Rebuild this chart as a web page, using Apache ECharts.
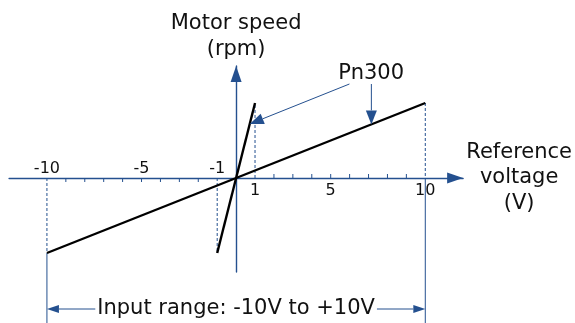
<!DOCTYPE html>
<html>
<head>
<meta charset="utf-8">
<script src="https://cdn.jsdelivr.net/npm/echarts@6/dist/echarts.min.js"></script>
<style>
  html, body { margin: 0; padding: 0; background: #ffffff; }
  #chart { width: 575px; height: 323px; }
</style>
</head>
<body>
<div id="chart"></div>
<script>
// Speed characteristic: reference voltage (V) -> motor speed (rpm)
const pn300Voltage = [-10, 10];
const pn300Speed = [-3000, 3000];
const steepVoltage = [-1, 1];
const steepSpeed = [-3000, 3000];

// Axis ticks on the voltage axis
const ticksBelow = [-9, -8, -7, -6, -5, -4, -3, -2];
const ticksAbove = [2, 3, 4, 5, 6, 7, 8, 9];
const labelsAbove = [-10, -5, -1];
const labelsBelow = [1, 5, 10];

// Guide lines: [voltage, speed from, speed to]
const dashedGuides = [[-10, 0, -3000], [-1, 0, -3000], [1, 0, 3000], [10, 3000, 0]];
const solidGuides = [[-10, -3000, -5800], [10, 0, -5800]];

// Input range dimension line: [from V, to V, speed level]
const inputRange = [-10, 10, -5240];
const inputRangeText = 'Input range: -10V to +10V';

// Pn300 callout: label position and the points the arrows touch
const calloutLabel = [7.14, 4160];
const calloutFrom = [[5.99, 3760], [7.15, 3760]];
const calloutTo = [[0.72, 2160], [7.15, 2145]];

const BLUE = '#24508f';
const INK = '#111111';
const FONT = 'DejaVu Sans';

function arrow(from, tip, headLen, headWid, color) {
  const dx = tip[0] - from[0], dy = tip[1] - from[1];
  const L = Math.hypot(dx, dy);
  const ux = dx / L, uy = dy / L;
  const bx = tip[0] - ux * headLen, by = tip[1] - uy * headLen;
  const px = -uy * headWid / 2, py = ux * headWid / 2;
  return [
    { type: 'line', shape: { x1: from[0], y1: from[1], x2: bx, y2: by },
      style: { stroke: color, lineWidth: 1 } },
    { type: 'polygon', shape: { points: [tip, [bx + px, by + py], [bx - px, by - py]] },
      style: { fill: color } }
  ];
}

const chart = echarts.init(document.getElementById('chart'), null, { renderer: 'canvas' });

const option = {
  backgroundColor: '#ffffff',
  animation: false,
  grid: { left: 9.1, width: 454.8, top: 66, height: 206, containLabel: false },
  xAxis: {
    type: 'value', min: -12, max: 12,
    axisLine: {
      onZero: true,
      lineStyle: { color: BLUE, width: 1.4 },
      symbol: ['none', 'triangle'], symbolSize: [11, 16], symbolOffset: [0, -8]
    },
    axisTick: { show: false }, axisLabel: { show: false }, splitLine: { show: false },
    name: 'Reference\nvoltage\n(V)', nameLocation: 'end', nameGap: 56,
    nameTextStyle: { color: INK, fontFamily: FONT, fontSize: 21, align: 'center',
      verticalAlign: 'middle', lineHeight: 25.5 }
  },
  yAxis: {
    type: 'value', min: -3760, max: 4480,
    axisLine: {
      onZero: true,
      lineStyle: { color: BLUE, width: 1.4 },
      symbol: ['none', 'triangle'], symbolSize: [11, 16], symbolOffset: [0, -8]
    },
    axisTick: { show: false }, axisLabel: { show: false }, splitLine: { show: false },
    name: 'Motor speed\n(rpm)', nameLocation: 'end', nameGap: 3,
    nameTextStyle: { color: INK, fontFamily: FONT, fontSize: 21, align: 'center',
      verticalAlign: 'bottom', lineHeight: 26 }
  },
  series: [
    {
      // dashed projection lines
      type: 'custom', clip: false, silent: true, z: 1,
      data: dashedGuides,
      renderItem: function (params, api) {
        const a = api.coord([api.value(0), api.value(1)]);
        const b = api.coord([api.value(0), api.value(2)]);
        return { type: 'line', shape: { x1: a[0], y1: a[1], x2: b[0], y2: b[1] },
          style: { stroke: BLUE, lineWidth: 1, lineDash: [3, 2] } };
      }
    },
    {
      // solid extension lines down to the range bar
      type: 'custom', clip: false, silent: true, z: 1,
      data: solidGuides,
      renderItem: function (params, api) {
        const a = api.coord([api.value(0), api.value(1)]);
        const b = api.coord([api.value(0), api.value(2)]);
        return { type: 'line', shape: { x1: a[0], y1: a[1], x2: b[0], y2: b[1] },
          style: { stroke: BLUE, lineWidth: 1 } };
      }
    },
    {
      // minor ticks: below the axis on the negative side, above on the positive
      type: 'custom', clip: false, silent: true, z: 3,
      data: ticksBelow.map(v => [v, -1]).concat(ticksAbove.map(v => [v, 1])),
      renderItem: function (params, api) {
        const p = api.coord([api.value(0), 0]);
        const dir = api.value(1);
        return { type: 'line', shape: { x1: p[0], y1: p[1], x2: p[0], y2: p[1] - dir * 4 },
          style: { stroke: BLUE, lineWidth: 1 } };
      }
    },
    {
      // tick labels
      type: 'custom', clip: false, silent: true, z: 4,
      data: labelsAbove.map(v => [v, 1]).concat(labelsBelow.map(v => [v, -1])),
      renderItem: function (params, api) {
        const v = api.value(0);
        const p = api.coord([v, 0]);
        const above = api.value(1) > 0;
        return { type: 'text', style: { text: String(v), x: p[0], y: above ? p[1] - 9 : p[1] + 13,
          fill: INK, fontFamily: FONT, fontSize: 16, align: 'center', verticalAlign: 'middle' } };
      }
    },
    {
      name: 'Pn300', type: 'line', data: pn300Voltage.map((v, i) => [v, pn300Speed[i]]),
      showSymbol: false, lineStyle: { color: '#000000', width: 2.4 }, z: 5
    },
    {
      name: 'steep', type: 'line', data: steepVoltage.map((v, i) => [v, steepSpeed[i]]),
      showSymbol: false, lineStyle: { color: '#000000', width: 2.4 }, z: 5
    },
    {
      // Pn300 callout arrows and label
      type: 'custom', clip: false, silent: true, z: 6,
      data: [calloutLabel],
      renderItem: function (params, api) {
        const children = [];
        for (let i = 0; i < calloutFrom.length; i++) {
          const f = api.coord(calloutFrom[i]);
          const t = api.coord(calloutTo[i]);
          children.push(...arrow(f, t, 14, 11, BLUE));
        }
        const lp = api.coord([api.value(0), api.value(1)]);
        children.push({ type: 'text', style: { text: 'Pn300', x: lp[0], y: lp[1],
          fill: INK, fontFamily: FONT, fontSize: 21, align: 'center', verticalAlign: 'middle' } });
        return { type: 'group', children: children };
      }
    },
    {
      // input range dimension line
      type: 'custom', clip: false, silent: true, z: 6,
      data: [inputRange],
      renderItem: function (params, api) {
        const a = api.coord([api.value(0), api.value(2)]);
        const b = api.coord([api.value(1), api.value(2)]);
        const mid = [(a[0] + b[0]) / 2, a[1]];
        const children = [].concat(arrow(mid, a, 12, 8, BLUE), arrow(mid, b, 12, 8, BLUE));
        children.push({ type: 'text', style: { text: inputRangeText, x: mid[0], y: mid[1],
          fill: INK, fontFamily: FONT, fontSize: 21, align: 'center', verticalAlign: 'middle',
          backgroundColor: '#ffffff', padding: [0, 2] } });
        return { type: 'group', children: children };
      }
    }
  ]
};

chart.setOption(option);
</script>
</body>
</html>
